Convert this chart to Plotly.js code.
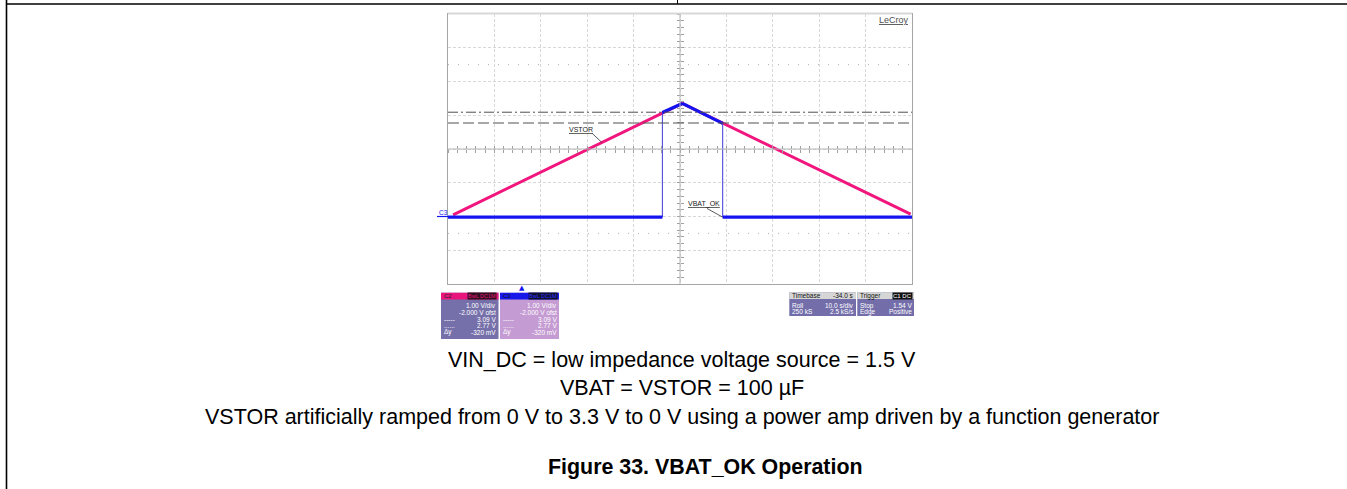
<!DOCTYPE html>
<html>
<head>
<meta charset="utf-8">
<script src="https://cdn.plot.ly/plotly-3.0.1.min.js"></script>
<style>
html,body{margin:0;padding:0;background:#fff;}
#chart{width:1347px;height:489px;}
</style>
</head>
<body>
<div id="chart"></div>
<script>
// ---------- data (time in s, voltage in V) ----------
const vstorT = [-14.9, 34.5, 83.7];
const vstorV = [0.05, 3.35, 0.07];
const vbatOkT = [-16, 30.2, 30.2, 34.5, 43.2, 43.2, 84];
const vbatOkV = [-0.02, -0.02, 3.08, 3.35, 2.76, -0.02, -0.02];
const cursorLevels = [3.09, 2.77];          // dash-dot, dashed
const dottedLevels = [4.5, -0.5];
const xRange = [-16, 84];                    // 10 s/div, -34 s delay
const yRange = [-2, 6];                      // 1 V/div, -2 V offset
const triggerTime = 0;

const c2Labels = ['', '', '-----', '......', '\u0394y'];
const c2Values = ['1.00 V/div', '-2.000 V ofst', '3.09 V', '2.77 V', '-320 mV'];
const c3Labels = ['', '', '-----', '......', '\u0394y'];
const c3Values = ['1.00 V/div', '-2.000 V ofst', '3.09 V', '2.77 V', '-320 mV'];
const tbLabels = ['Roll', '250 kS'];
const tbValues = ['10.0 s/div', '2.5 kS/s'];
const trLabels = ['Stop', 'Edge'];
const trValues = ['1.54 V', 'Positive'];
const captionLines = [
  'VIN_DC = low impedance voltage source = 1.5 V',
  'VBAT = VSTOR = 100 \u00b5F',
  'VSTOR artificially ramped from 0 V to 3.3 V to 0 V using a power amp driven by a function generator'
];
const figureTitle = 'Figure 33. VBAT_OK Operation';

// ---------- geometry helpers ----------
const L = 448, R = 912, T = 14, B = 284;
const xp = px => (px - L) / (R - L);
const yp = py => (B - py) / (B - T);
const FONT = 'Liberation Sans, Arial, sans-serif';
const PINK = '#f0167e', BLUE = '#1414f0';

// thick blue segments = non-vertical segments of the VBAT_OK trace
const thickT = [], thickV = [];
for (let i = 0; i < vbatOkT.length - 1; i++) {
  if (vbatOkT[i] !== vbatOkT[i + 1]) {
    thickT.push(vbatOkT[i], vbatOkT[i + 1], null);
    thickV.push(vbatOkV[i], vbatOkV[i + 1], null);
  }
}

const traces = [
  {x: [], y: [], xaxis: 'x2', yaxis: 'y2', type: 'scatter', hoverinfo: 'skip'},
  {x: [], y: [], xaxis: 'x3', yaxis: 'y3', type: 'scatter', hoverinfo: 'skip'},
  {x: vstorT, y: vstorV, mode: 'lines', line: {color: PINK, width: 3}, name: 'VSTOR'},
  {x: vbatOkT, y: vbatOkV, mode: 'lines', line: {color: '#3a3ad8', width: 1}, name: 'VBAT_OK edges'},
  {x: thickT, y: thickV, mode: 'lines', line: {color: BLUE, width: 3.2}, connectgaps: false, name: 'VBAT_OK'}
];

const shapes = [];
// center cross lines
shapes.push({type: 'line', xref: 'paper', yref: 'y', x0: 0, x1: 1, y0: (yRange[0] + yRange[1]) / 2, y1: (yRange[0] + yRange[1]) / 2, line: {color: '#b4b4b4', width: 1}});
shapes.push({type: 'line', xref: 'x', yref: 'paper', x0: (xRange[0] + xRange[1]) / 2, x1: (xRange[0] + xRange[1]) / 2, y0: 0, y1: 1, line: {color: '#b4b4b4', width: 1}});
// dotted reference lines
dottedLevels.forEach(v => shapes.push({type: 'line', xref: 'paper', yref: 'y', x0: 0, x1: 1, y0: v, y1: v, layer: 'below', line: {color: '#b0b0b0', width: 1, dash: '1px,9px'}}));
// cursors
shapes.push({type: 'line', xref: 'paper', yref: 'y', x0: 0, x1: 1, y0: cursorLevels[0], y1: cursorLevels[0], line: {color: '#505050', width: 1, dash: '10px,3px,2px,3px'}});
shapes.push({type: 'line', xref: 'paper', yref: 'y', x0: 0, x1: 1, y0: cursorLevels[1], y1: cursorLevels[1], line: {color: '#505050', width: 1, dash: '11px,4px'}});
// top band of the screen
shapes.push({type: 'line', xref: 'paper', yref: 'paper', x0: 0, x1: 1, y0: 1.002, y1: 1.002, line: {color: '#d8d8d8', width: 2}});
// leader lines
shapes.push({type: 'line', xref: 'x', yref: 'y', x0: 15.1, y0: 2.46, x1: 17.1, y1: 2.2, line: {color: '#333', width: 0.8}});
shapes.push({type: 'line', xref: 'x', yref: 'y', x0: 39.8, y0: 0.24, x1: 43.2, y1: -0.02, line: {color: '#333', width: 0.8}});
// ground marker for C3
shapes.push({type: 'line', xref: 'paper', yref: 'y', x0: xp(437), x1: 0, y0: 0, y1: 0, line: {color: BLUE, width: 1.2}});
// page frame
shapes.push({type: 'line', xref: 'paper', yref: 'paper', x0: xp(6.5), x1: xp(1347), y0: yp(4), y1: yp(4), line: {color: '#000', width: 1.6}});
shapes.push({type: 'line', xref: 'paper', yref: 'paper', x0: xp(6.5), x1: xp(6.5), y0: yp(0), y1: yp(489), line: {color: '#000', width: 1.6}});
shapes.push({type: 'line', xref: 'paper', yref: 'paper', x0: xp(677.5), x1: xp(677.5), y0: yp(0), y1: yp(4), line: {color: '#000', width: 1}});

// info boxes
function rect(x0, y0, x1, y1, color) {
  shapes.push({type: 'rect', xref: 'paper', yref: 'paper', x0: xp(x0), x1: xp(x1), y0: yp(y1), y1: yp(y0), fillcolor: color, line: {width: 0}, layer: 'above'});
}
rect(441, 292.7, 498.5, 339, '#7670aa');
rect(441, 292.7, 498.5, 299.5, '#e8157c');
rect(500, 292.7, 559, 339, '#c49bd2');
rect(500, 292.7, 559, 299.5, '#1818e8');
rect(789.3, 292.3, 856, 316, '#736eaa');
rect(789.3, 292.3, 856, 299, '#d6d6d6');
rect(857.3, 292.3, 914, 316, '#736eaa');
rect(857.3, 292.3, 914, 299, '#d6d6d6');

const annotations = [];
function txt(px, py, text, o) {
  o = o || {};
  annotations.push({
    xref: 'paper', yref: 'paper', x: xp(px), y: yp(py), text: text, showarrow: false,
    xanchor: o.xa || 'left', yanchor: 'middle',
    font: {family: o.family || FONT, size: o.size || 6.5, color: o.color || '#fff'},
    bgcolor: o.bg, borderpad: 0
  });
}
// box contents
const rowY5 = [305.8, 312.5, 319.2, 325.8, 332.4];
c2Labels.forEach((s, i) => { if (s) txt(442.5, rowY5[i], s); });
c2Values.forEach((s, i) => txt(496.5, rowY5[i], s, {xa: 'right'}));
c3Labels.forEach((s, i) => { if (s) txt(501.5, rowY5[i], s); });
c3Values.forEach((s, i) => txt(557.5, rowY5[i], s, {xa: 'right'}));
txt(442.5, 296.2, 'C2', {color: '#222', size: 6});
txt(496.5, 296.2, 'BwL DC1M', {xa: 'right', color: '#e8157c', bg: '#301020', size: 5.5});
txt(501.5, 296.2, 'C3', {color: '#111', size: 6});
txt(557.5, 296.2, 'BwL DC1M', {xa: 'right', color: '#3030ff', bg: '#101030', size: 5.5});
const rowY2 = [305.6, 311.8];
tbLabels.forEach((s, i) => txt(790.5, rowY2[i], s));
tbValues.forEach((s, i) => txt(854.5, rowY2[i], s, {xa: 'right'}));
trLabels.forEach((s, i) => txt(858.5, rowY2[i], s));
trValues.forEach((s, i) => txt(912.5, rowY2[i], s, {xa: 'right'}));
txt(790.5, 295.8, 'Timebase', {color: '#111'});
txt(854.5, 295.8, '-34.0 s', {xa: 'right', color: '#111'});
txt(858.5, 295.8, 'Trigger', {color: '#111'});
txt(912.5, 295.8, 'C1 DC', {xa: 'right', color: '#fff', bg: '#111', size: 6});

// trace labels
txt(581, 129.5, '<u>VSTOR</u>', {xa: 'center', color: '#222', size: 7});
txt(704, 204.3, '<u>VBAT_OK</u>', {xa: 'center', color: '#222', size: 7});
txt(443.5, 212.8, 'C3', {xa: 'center', color: BLUE, size: 6.5});
txt(909.5, 19.5, '<u>LeCroy</u>', {xa: 'right', color: '#505050', size: 9});
// trigger marker
annotations.push({xref: 'x', yref: 'paper', x: triggerTime, y: yp(287.5), text: '\u25b2', showarrow: false,
  xanchor: 'center', yanchor: 'middle', font: {family: 'DejaVu Sans', size: 7, color: BLUE}});

// captions
const capY = [359.5, 388.2, 416.6];
captionLines.forEach((s, i) => txt(681.5, capY[i], s, {xa: 'center', color: '#000', size: 21.5}));
txt(705.5, 466.5, '<b>' + figureTitle + '</b>', {xa: 'center', color: '#000', size: 21.4});

const axBase = {showticklabels: false, zeroline: false, fixedrange: true};
const layout = {
  width: 1347, height: 489,
  margin: {l: L, r: 1347 - R, t: T, b: 489 - B, pad: 0},
  paper_bgcolor: '#fff', plot_bgcolor: '#fff',
  showlegend: false,
  xaxis: Object.assign({}, axBase, {range: xRange, tick0: xRange[0], dtick: 10, showgrid: true, gridcolor: '#d8d8d8', griddash: '3px,2px', gridwidth: 1, showline: true, linecolor: '#a6a6a6', linewidth: 1, mirror: true, ticks: ''}),
  yaxis: Object.assign({}, axBase, {range: yRange, tick0: yRange[0], dtick: 1, showgrid: true, gridcolor: '#d8d8d8', griddash: '3px,2px', gridwidth: 1, showline: true, linecolor: '#a6a6a6', linewidth: 1, mirror: true, ticks: ''}),
  xaxis2: Object.assign({}, axBase, {overlaying: 'x', anchor: 'free', position: 0.5, range: xRange, tick0: xRange[0], dtick: 2, ticks: 'outside', ticklen: 3, tickcolor: '#a0a0a0', showgrid: false, showline: false}),
  yaxis2: Object.assign({}, axBase, {overlaying: 'y', anchor: 'free', position: 0.5, range: yRange, tick0: yRange[0], dtick: 0.2, ticks: 'outside', ticklen: 3, tickcolor: '#a0a0a0', showgrid: false, showline: false}),
  xaxis3: Object.assign({}, axBase, {overlaying: 'x', anchor: 'free', position: 0.5, range: xRange, tick0: xRange[0], dtick: 2, ticks: 'inside', ticklen: 3, tickcolor: '#a0a0a0', showgrid: false, showline: false}),
  yaxis3: Object.assign({}, axBase, {overlaying: 'y', anchor: 'free', position: 0.5, range: yRange, tick0: yRange[0], dtick: 0.2, ticks: 'inside', ticklen: 3, tickcolor: '#a0a0a0', showgrid: false, showline: false}),
  shapes: shapes,
  annotations: annotations
};

Plotly.newPlot('chart', traces, layout, {displayModeBar: false, staticPlot: true});
</script>
</body>
</html>
